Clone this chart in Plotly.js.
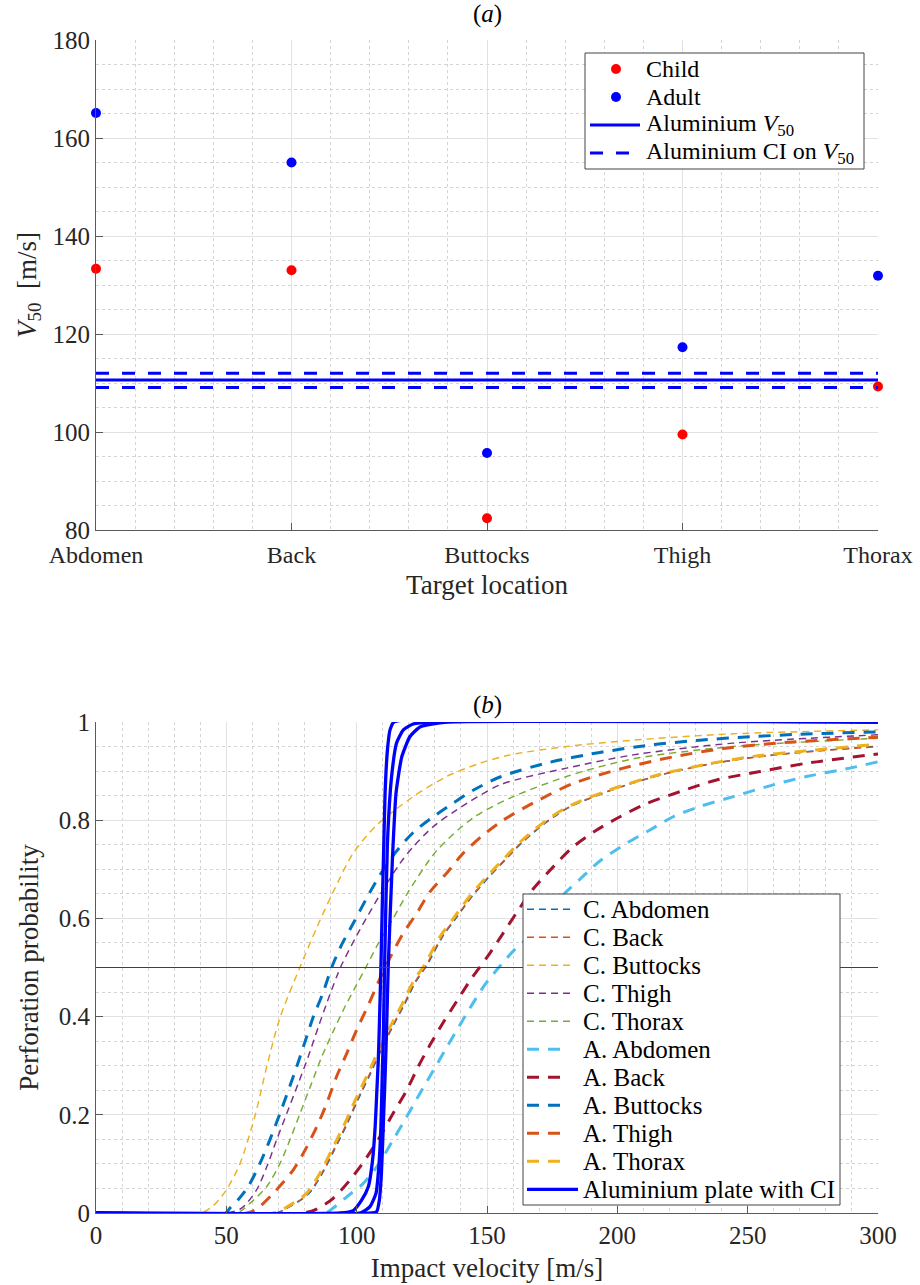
<!DOCTYPE html>
<html><head><meta charset="utf-8">
<script src="https://cdn.plot.ly/plotly-3.0.1.min.js"></script>
<style>body{margin:0;background:#fff}#chart{width:920px;height:1285px}</style>
</head><body><div id="chart"></div><script>
// ---------- (a) V50 per target location ----------
const locations = ['Abdomen', 'Back', 'Buttocks', 'Thigh', 'Thorax'];
const childV50 = [133.3, 133.0, 82.4, 99.5, 109.3];
const adultV50 = [165.1, 155.0, 95.7, 117.3, 131.9];
const alV50 = 110.6;
const alCI = [109.1, 112.0];

// ---------- (b) perforation probability curves ----------
const cAbdomenV = [0, 69, 75.4, 81.8, 86.9, 91.4, 95.9, 100.3, 104.8, 109.3, 113.8, 118.3, 122.7, 127, 133, 138.1, 144.5, 150.9, 157.2, 163.6, 172.6, 181.5, 198.2, 217.3, 235.2, 253.1, 271, 300];
const cAbdomenP = [0, 0, 0.016, 0.04, 0.081, 0.128, 0.176, 0.228, 0.278, 0.33, 0.379, 0.424, 0.471, 0.505, 0.563, 0.6, 0.646, 0.685, 0.72, 0.755, 0.795, 0.826, 0.862, 0.893, 0.914, 0.929, 0.939, 0.951];
const cBackV = [0, 69, 75.1, 81.5, 86.6, 91.1, 95.6, 100, 104.5, 109, 113.5, 118, 122.4, 126.7, 132.7, 137.8, 144.2, 150.6, 156.9, 163.3, 172.3, 181.2, 197.9, 217, 234.9, 252.8, 270.7, 300];
const cBackP = [0, 0, 0.016, 0.04, 0.081, 0.128, 0.176, 0.228, 0.278, 0.33, 0.379, 0.424, 0.471, 0.505, 0.563, 0.6, 0.646, 0.685, 0.72, 0.755, 0.795, 0.826, 0.862, 0.893, 0.914, 0.928, 0.938, 0.950];
const cButtocksV = [0, 40, 45, 50, 55.2, 61, 65.5, 70.6, 78.2, 85, 91, 98.7, 107.7, 121.7, 134.5, 147.3, 158.8, 180.5, 206, 244.5, 300];
const cButtocksP = [0, 0, 0.015, 0.047, 0.1, 0.198, 0.298, 0.398, 0.5, 0.585, 0.654, 0.733, 0.79, 0.848, 0.889, 0.916, 0.933, 0.95, 0.963, 0.976, 0.984];
const cThighV = [0, 50, 55.9, 61.6, 65.5, 69.3, 73.2, 77.6, 81.4, 85.3, 88.5, 92.3, 94.2, 100, 109.6, 116.6, 121.7, 129.4, 138.4, 155, 180.5, 206.1, 244.5, 300];
const cThighP = [0, 0, 0.01, 0.047, 0.094, 0.149, 0.203, 0.264, 0.318, 0.379, 0.427, 0.481, 0.505, 0.565, 0.654, 0.712, 0.746, 0.787, 0.821, 0.872, 0.906, 0.933, 0.957, 0.974];
const cThoraxV = [0, 54, 59.1, 65.5, 70.6, 74.4, 78.3, 82.7, 86.6, 91, 95.5, 100, 103.5, 108.3, 114, 119.8, 130.7, 144.7, 158.8, 180.5, 206.1, 244.5, 300];
const cThoraxP = [0, 0, 0.02, 0.054, 0.101, 0.149, 0.203, 0.264, 0.318, 0.37, 0.42, 0.465, 0.5, 0.549, 0.6, 0.654, 0.738, 0.805, 0.845, 0.889, 0.925, 0.95, 0.967];
const aAbdomenV = [0, 88, 91, 96.2, 102.5, 107.7, 114, 119.2, 124.3, 129.4, 134.5, 139.6, 144.7, 149.2, 155, 160.7, 165, 170, 175, 180, 185.7, 193.3, 203.6, 212.5, 221.4, 231.7, 244.5, 259.8, 272.6, 289.2, 300];
const aAbdomenP = [0, 0, 0.01, 0.033, 0.06, 0.094, 0.149, 0.196, 0.244, 0.29, 0.337, 0.383, 0.428, 0.465, 0.503, 0.537, 0.557, 0.592, 0.625, 0.652, 0.68, 0.717, 0.753, 0.78, 0.807, 0.828, 0.848, 0.872, 0.889, 0.906, 0.919];
const aBackV = [0, 79.5, 84.7, 91, 97.4, 103.2, 108.9, 114, 119.2, 123.6, 128.1, 133.2, 138.7, 144.1, 149.9, 155.6, 161.4, 167.7, 175.4, 183.1, 192.1, 201, 211.2, 224, 238.1, 254.7, 272.6, 300];
const aBackP = [0, 0, 0.008, 0.03, 0.067, 0.108, 0.155, 0.203, 0.25, 0.298, 0.342, 0.388, 0.434, 0.478, 0.52, 0.565, 0.612, 0.66, 0.705, 0.746, 0.78, 0.807, 0.834, 0.858, 0.882, 0.899, 0.916, 0.935];
const aButtocksV = [0, 49.7, 51.4, 55, 58.4, 62.9, 66.7, 70.6, 77, 80.2, 83.4, 87, 90.4, 94.2, 98.7, 103.8, 108.9, 114.7, 121.7, 129.4, 137.1, 144.7, 155, 174.1, 193.3, 212.5, 231.7, 250.9, 270, 300];
const aButtocksP = [0, 0, 0.01, 0.03, 0.054, 0.101, 0.149, 0.203, 0.298, 0.349, 0.4, 0.447, 0.5, 0.546, 0.59, 0.641, 0.688, 0.733, 0.775, 0.807, 0.835, 0.861, 0.888, 0.918, 0.938, 0.953, 0.963, 0.97, 0.975, 0.98];
const aThighV = [0, 58, 61.6, 68, 75.7, 80.2, 84.7, 88.5, 92.3, 96.2, 100, 104.5, 108.3, 112.8, 117.9, 123, 128.1, 134.5, 140.9, 148.6, 156.2, 167.7, 183.1, 202.3, 221.4, 240.6, 261.1, 300];
const aThighP = [0, 0, 0.008, 0.04, 0.088, 0.128, 0.176, 0.223, 0.278, 0.325, 0.373, 0.424, 0.47, 0.52, 0.57, 0.61, 0.654, 0.692, 0.733, 0.77, 0.8, 0.835, 0.875, 0.906, 0.929, 0.946, 0.957, 0.969];
const aThoraxV = [0, 68, 74.4, 80.8, 85.9, 90.4, 94.9, 99.3, 103.8, 108.3, 112.8, 117.3, 121.7, 126, 132, 137.1, 143.5, 149.9, 156.2, 162.6, 171.6, 180.5, 197.2, 216.3, 234.2, 252.1, 270, 300];
const aThoraxP = [0, 0, 0.016, 0.04, 0.081, 0.128, 0.176, 0.228, 0.278, 0.33, 0.379, 0.424, 0.471, 0.505, 0.563, 0.6, 0.646, 0.685, 0.72, 0.755, 0.795, 0.826, 0.862, 0.893, 0.914, 0.93, 0.94, 0.955];
const alLeftV = [0, 93.6, 98.7, 101.9, 104.5, 106.1, 107.1, 107.7, 108.3, 108.8, 109.3, 109.8, 110.4, 110.9, 111.8, 112.8, 114.3, 300];
const alLeftP = [0, 0, 0.005, 0.026, 0.054, 0.108, 0.176, 0.244, 0.312, 0.4, 0.5, 0.62, 0.75, 0.855, 0.943, 0.984, 1, 1];
const alMidV = [0, 101.3, 105.1, 107.4, 108.5, 109.3, 109.8, 110.3, 110.7, 111.8, 113.4, 115.3, 117.9, 121.7, 129.4, 300];
const alMidP = [0, 0, 0.013, 0.04, 0.094, 0.176, 0.278, 0.379, 0.5, 0.753, 0.889, 0.957, 0.984, 0.996, 1, 1];
const alRightV = [0, 105.7, 107.7, 108.7, 109.5, 110.2, 110.9, 111.5, 112.1, 113.7, 115.1, 117.3, 120.4, 124.3, 134.5, 300];
const alRightP = [0, 0, 0.003, 0.026, 0.081, 0.176, 0.278, 0.379, 0.5, 0.719, 0.855, 0.929, 0.97, 0.99, 1, 1];
const halfLevel = 0.5;

const FONT = 'Liberation Serif, DejaVu Serif, serif';
const locIdx = locations.map((_, i) => i);
const C = {blue:'#0072BD', orange:'#D95319', yellow:'#EDB120', purple:'#7E2F8E', green:'#77AC30', lblue:'#4DBEEE', red:'#A2142F'};
const RED = '#FF0000', BLUE = '#0000FF';
const THIN = {width:1.45, dash:'7px,5px'};
const THICK = {width:3, dash:'12px,9px'};
const CIDASH = '13px,13px';

const traces = [];
// top panel
traces.push({x: locIdx, y: childV50, type:'scatter', mode:'markers', name:'Child', marker:{color:RED, size:10}, cliponaxis:false, xaxis:'x', yaxis:'y'});
traces.push({x: locIdx, y: adultV50, type:'scatter', mode:'markers', name:'Adult', marker:{color:BLUE, size:10}, cliponaxis:false, xaxis:'x', yaxis:'y'});
const xEnds = [locIdx[0], locIdx[locIdx.length - 1]];
traces.push({x: xEnds, y: [alV50, alV50], type:'scatter', mode:'lines', name:'Aluminium V50', line:{color:BLUE, width:3}, xaxis:'x', yaxis:'y'});
alCI.forEach(v => traces.push({x: xEnds, y: [v, v], type:'scatter', mode:'lines', name:'Aluminium CI on V50', line:{color:BLUE, width:3, dash:CIDASH}, xaxis:'x', yaxis:'y'}));

// bottom panel
const curves = [
  ['C. Abdomen', cAbdomenV, cAbdomenP, C.blue, THIN],
  ['C. Back', cBackV, cBackP, C.orange, THIN],
  ['C. Buttocks', cButtocksV, cButtocksP, C.yellow, THIN],
  ['C. Thigh', cThighV, cThighP, C.purple, THIN],
  ['C. Thorax', cThoraxV, cThoraxP, C.green, THIN],
  ['A. Abdomen', aAbdomenV, aAbdomenP, C.lblue, THICK],
  ['A. Back', aBackV, aBackP, C.red, THICK],
  ['A. Buttocks', aButtocksV, aButtocksP, C.blue, THICK],
  ['A. Thigh', aThighV, aThighP, C.orange, THICK],
  ['A. Thorax', aThoraxV, aThoraxP, C.yellow, THICK]
];
curves.forEach(([name, x, y, color, st]) => traces.push({x, y, name, type:'scatter', mode:'lines',
  line:{color, width:st.width, dash:st.dash, shape:'spline', smoothing:0.8}, cliponaxis:false, xaxis:'x2', yaxis:'y2'}));
[[alLeftV, alLeftP], [alMidV, alMidP], [alRightV, alRightP]].forEach(d => traces.push({x: d[0], y: d[1], type:'scatter', mode:'lines', name:'Aluminium plate with CI',
  line:{color:BLUE, width:3.3, shape:'spline', smoothing:0.5}, cliponaxis:false, xaxis:'x2', yaxis:'y2'}));

// ---------- layout ----------
const M = {l:96, r:42, t:40, b:72}, W = 920, H = 1285;
const PW = W - M.l - M.r, PH = H - M.t - M.b;
const px2x = p => (p - M.l) / PW;
const px2y = p => (H - M.b - p) / PH;

const gridMajor = '#e2e2e2', gridMinor = '#d4d4d4', axCol = '#5a5a5a';
const axBase = {showline:true, linecolor:axCol, linewidth:1, ticks:'inside', ticklen:7, tickcolor:axCol, tickwidth:1, showgrid:true, gridcolor:gridMajor, gridwidth:1, zeroline:false, tickfont:{family:FONT, size:25, color:'#262626'}, automargin:false};
const minorGrid = (t0, dt) => ({tickmode:'linear', tick0:t0, dtick:dt, showgrid:true, gridcolor:gridMinor, griddash:'dot', gridwidth:1, ticks:''});
const titleFont = {family:FONT, size:27, color:'#262626'};

const shapes = [{type:'line', xref:'x2 domain', yref:'y2', x0:0, x1:1, y0:halfLevel, y1:halfLevel, line:{color:'#404040', width:1}, layer:'above'}];
const annotations = [
  {text:'(<i>a</i>)', xref:'paper', yref:'paper', x:0.5, y:px2y(14), xanchor:'center', yanchor:'middle', showarrow:false, font:{family:FONT, size:25, color:'#000'}},
  {text:'(<i>b</i>)', xref:'paper', yref:'paper', x:0.5, y:px2y(705), xanchor:'center', yanchor:'middle', showarrow:false, font:{family:FONT, size:25, color:'#000'}}
];

// legend builder (boxed key drawn with shapes + text)
function addLegend(box, rowY0, rowGap, sampleX0, textX, fontSize, entries) {
  shapes.push({type:'rect', xref:'paper', yref:'paper', x0:px2x(box[0]), x1:px2x(box[2]), y0:px2y(box[1]), y1:px2y(box[3]),
    fillcolor:'#ffffff', line:{color:'#444444', width:1}, layer:'above'});
  entries.forEach((e, i) => {
    const yy = px2y(rowY0 + i * rowGap);
    if (e.kind === 'marker') {
      shapes.push({type:'circle', xref:'paper', yref:'paper', xsizemode:'pixel', ysizemode:'pixel', xanchor:px2x(e.mx), yanchor:yy,
        x0:-5, x1:5, y0:-5, y1:5, fillcolor:e.color, line:{width:0}, layer:'above'});
    } else {
      shapes.push({type:'line', xref:'paper', yref:'paper', x0:px2x(sampleX0), x1:px2x(e.x1), y0:yy, y1:yy,
        line:{color:e.color, width:e.width, dash:e.dash}, layer:'above'});
    }
    annotations.push({text:e.text, xref:'paper', yref:'paper', x:px2x(textX), y:yy, xanchor:'left', yanchor:'middle', showarrow:false,
      font:{family:FONT, size:fontSize, color:'#000'}});
  });
}
addLegend([585, 53, 864, 169], 69, 28, 590, 644, 24, [
  {kind:'marker', color:RED, mx:616, text:'Child'},
  {kind:'marker', color:BLUE, mx:616, text:'Adult'},
  {kind:'line', color:BLUE, width:3, dash:'solid', x1:640, text:'Aluminium <i>V</i><sub>50</sub>'},
  {kind:'line', color:BLUE, width:3, dash:CIDASH, x1:632, text:'Aluminium CI on <i>V</i><sub>50</sub>'}
]);
addLegend([523, 894, 840, 1205], 909.3, 28, 527, 581, 25,
  curves.map(([name, , , color, st]) => ({kind:'line', color, width:st.width, dash:st.dash, x1: st === THIN ? 573 : 566, text:name}))
    .concat([{kind:'line', color:BLUE, width:3.3, dash:'solid', x1:578, text:'Aluminium plate with CI'}]));

const layout = {
  width:W, height:H, paper_bgcolor:'#fff', plot_bgcolor:'#fff',
  margin:M, showlegend:false,
  xaxis: Object.assign({}, axBase, {domain:[0,1], anchor:'y', range:[0,4], tickmode:'array', tickvals:locIdx, ticktext:locations,
    tickfont:{family:FONT, size:24, color:'#262626'}, ticklabelstandoff:3,
    minor:minorGrid(0, 0.2), title:{text:'Target location', font:titleFont, standoff:8}}),
  yaxis: Object.assign({}, axBase, {domain:[px2y(530), 1], anchor:'x', range:[80,180], dtick:20, tick0:80,
    minor:minorGrid(80, 5), title:{text:'<i>V</i><sub>50</sub>  [m/s]', font:titleFont, standoff:8}}),
  xaxis2: Object.assign({}, axBase, {domain:[0,1], anchor:'y2', range:[0,300], dtick:50, tick0:0,
    minor:minorGrid(0, 10), title:{text:'Impact velocity [m/s]', font:titleFont, standoff:10}}),
  yaxis2: Object.assign({}, axBase, {domain:[0, px2y(722)], anchor:'x2', range:[0,1], dtick:0.2, tick0:0,
    minor:minorGrid(0, 0.05), title:{text:'Perforation probability', font:titleFont, standoff:12}}),
  shapes, annotations
};
Plotly.newPlot('chart', traces, layout, {staticPlot:true, displayModeBar:false});
</script></body></html>
